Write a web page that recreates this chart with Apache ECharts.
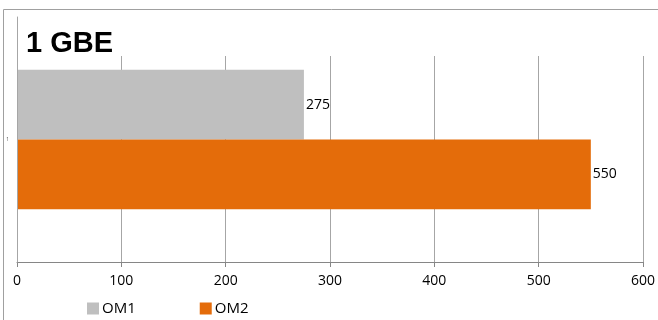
<!DOCTYPE html>
<html>
<head>
<meta charset="utf-8">
<script src="https://cdn.jsdelivr.net/npm/echarts@6/dist/echarts.min.js"></script>
<style>
  html, body { margin: 0; padding: 0; background: #fff; }
  #chart { width: 658px; height: 320px; }
</style>
</head>
<body>
<div id="chart"></div>
<script>
const categories = ['1']
const seriesNames = ['OM1', 'OM2']
const om1 = [275]
const om2 = [550]
const colors = ['#BFBFBF', '#E46C0A']

const myChart = echarts.init(document.getElementById('chart'))
const font = 'Open Sans'

myChart.setOption({
  animation: false,
  color: colors,
  title: {
    text: '1 GBE',
    left: 21,
    top: 24,
    z: 8,
    textStyle: {
      color: '#000',
      fontWeight: 'bold',
      fontFamily: 'Liberation Sans',
      fontSize: 29,
    },
  },
  legend: {
    left: 82,
    top: 296,
    itemWidth: 12,
    itemHeight: 12,
    itemGap: 64,
    icon: 'rect',
    textStyle: { color: '#000', fontSize: 15, fontFamily: font, padding: [0, 0, 0, -2] },
    data: seriesNames,
  },
  grid: { left: 17, right: 13, top: 17, bottom: 58, containLabel: false },
  xAxis: {
    type: 'value',
    min: 0,
    max: 600,
    interval: 100,
    axisLine: { show: true, lineStyle: { color: '#868686' } },
    axisTick: { show: true, length: 5, lineStyle: { color: '#868686' } },
    axisLabel: { color: '#000', fontSize: 14, fontFamily: font, margin: 12 },
    splitLine: { show: true, lineStyle: { color: '#A6A6A6' } },
  },
  yAxis: {
    type: 'category',
    data: categories,
    inverse: true,
    z: 10,
    axisLine: { show: true, lineStyle: { color: '#A6A6A6' } },
    axisTick: { show: false },
    axisLabel: { color: '#555', fontSize: 5, fontFamily: font, margin: 8 },
  },
  graphic: [
    {
      type: 'rect',
      z: 5,
      shape: { x: 18, y: 11, width: 640, height: 45 },
      style: { fill: '#fff' },
    },
    {
      type: 'rect',
      z: 1,
      shape: { x: 3.5, y: 9.5, width: 700, height: 400 },
      style: { fill: 'none', stroke: '#A0A0A0', lineWidth: 1 },
    },
  ],
  series: [
    {
      name: seriesNames[0],
      type: 'bar',
      data: om1,
      barGap: '0%',
      barCategoryGap: '43%',
      label: { show: true, position: 'right', distance: 2, color: '#000', fontSize: 14, fontFamily: font },
    },
    {
      name: seriesNames[1],
      type: 'bar',
      data: om2,
      barGap: '0%',
      barCategoryGap: '43%',
      label: { show: true, position: 'right', distance: 2, color: '#000', fontSize: 14, fontFamily: font },
    },
  ],
})
</script>
</body>
</html>
